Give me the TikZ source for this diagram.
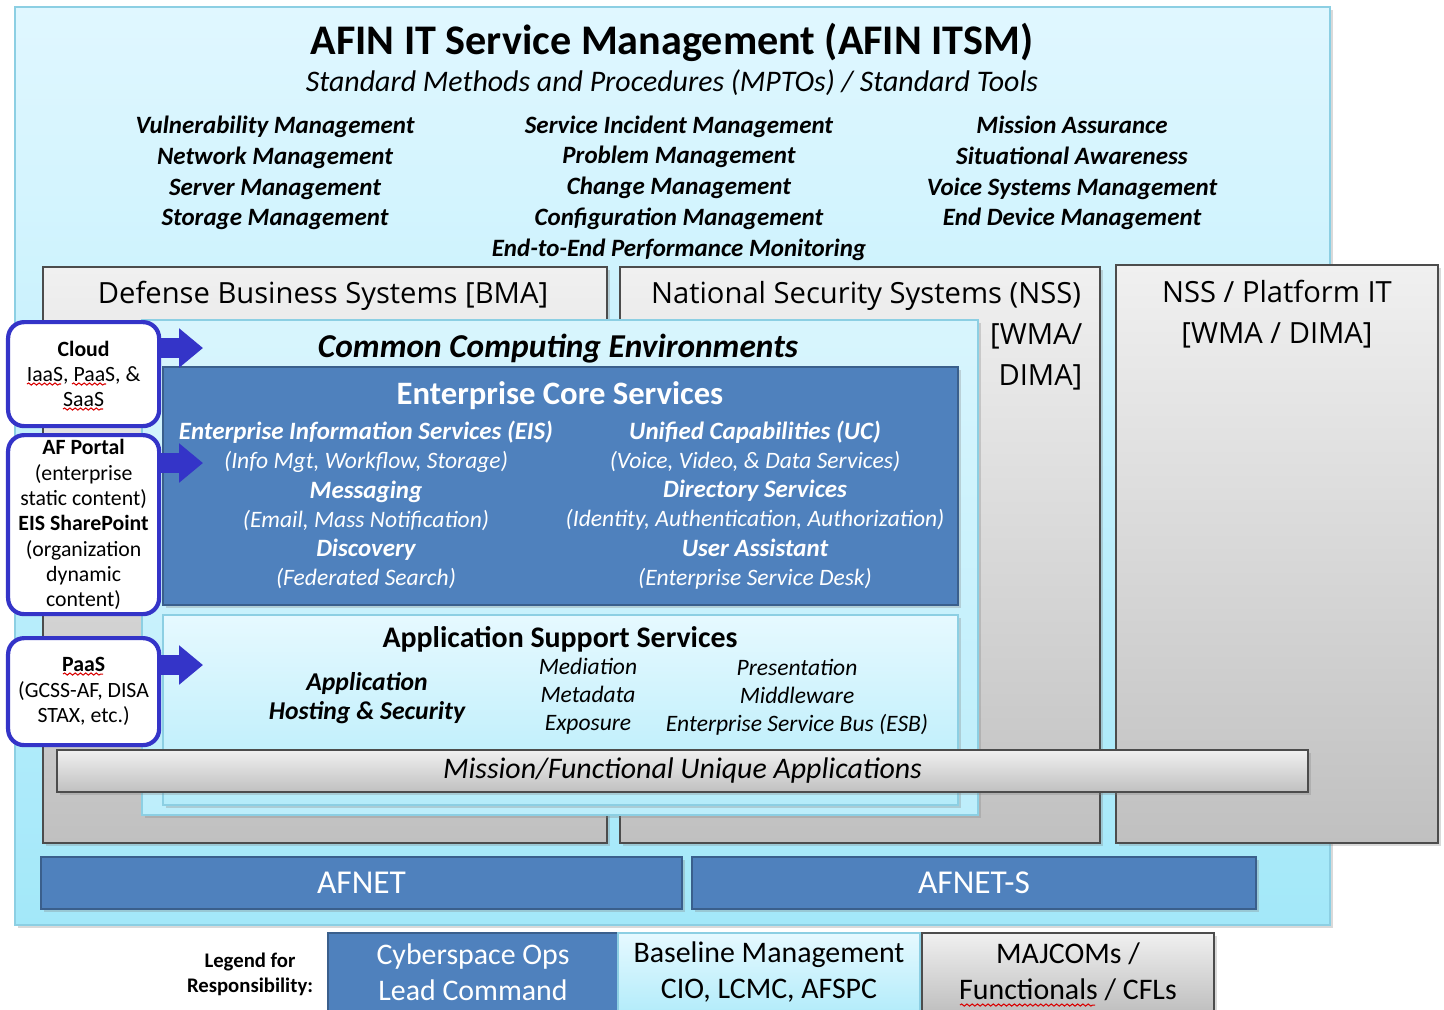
\documentclass[tikz,border=0pt]{standalone}
\usepackage{fontspec}
\setmainfont{Carlito}
\newfontfamily\segoe{Open Sans}
\usetikzlibrary{shadows,arrows.meta,decorations.pathmorphing}

\definecolor{skytop}{HTML}{E0F7FF}
\definecolor{skybot}{HTML}{A3E8F9}
\definecolor{skyrule}{HTML}{8CCFE3}
\definecolor{ccetop}{HTML}{D8F5FD}
\definecolor{ccebot}{HTML}{BDEEFB}
\definecolor{paletop}{HTML}{E6F9FF}
\definecolor{palebot}{HTML}{B4ECFA}
\definecolor{greytop}{HTML}{F0F0F0}
\definecolor{greybot}{HTML}{C0C0C0}
\definecolor{coreblue}{HTML}{4F81BD}
\definecolor{corerule}{HTML}{3A5F8C}
\definecolor{callblue}{HTML}{3434C8}

\newcommand\fs[2]{\fontsize{#1}{#2}\selectfont}
\newcommand\bix[1]{{\fs{7.1}{8.3}\bfseries\itshape #1}}

\tikzset{
  panel/.style={draw, line width=.6pt, inner sep=0pt, outer sep=0pt, anchor=north west, align=center,
    drop shadow={opacity=.3, shadow xshift=.8pt, shadow yshift=-.8pt}},
  skypanel/.style={panel, draw=skyrule, top color=skytop, bottom color=skybot},
  ccepanel/.style={panel, draw=skyrule, top color=ccetop, bottom color=ccebot},
  palepanel/.style={panel, draw=skyrule, top color=paletop, bottom color=palebot},
  greypanel/.style={panel, draw=black!70, top color=greytop, bottom color=greybot},
  corepanel/.style={panel, draw=corerule, fill=coreblue, text=white},
  callout/.style={draw=callblue, line width=1.2pt, fill=white, rounded corners=.16cm, anchor=north west,
    inner sep=0pt, align=center, minimum width=1.51cm, font=\fs{6.2}{7.2}},
  fat/.style={draw=callblue, line width=.2cm, -{Triangle[width=.38cm,length=.24cm]}},
  lbl/.style={inner sep=0pt, align=center},
  typo/.style={draw=red!85!black, line width=.3pt, decorate, decoration={snake, amplitude=.3pt, segment length=1.5pt}},
}

\begin{document}
\begin{tikzpicture}
  \useasboundingbox (0,0) rectangle (14.44,-10.09);
  % \panel{name}{style}{left}{top}{width}{height}{text}
  \def\panel#1#2#3#4#5#6#7{\node[#2, minimum width=#5cm, minimum height=#6cm] (#1) at (#3,-#4) {#7};}

  % ITSM frame and its process lists
  \panel{itsm}{skypanel}{0.15}{0.07}{13.15}{9.18}{}
  \node[lbl, font=\fs{12}{14}\bfseries] (title) at (6.72,-0.42) {AFIN IT Service Management (AFIN ITSM)};
  \node[lbl, font=\fs{8.5}{10}\itshape] (subtitle) at (6.72,-0.83) {Standard Methods and Procedures (MPTOs) / Standard Tools};
  \begin{scope}[every node/.style={lbl, font=\fs{7.1}{8.75}\bfseries\itshape}]
    \node (mgmtA) at (2.75,-1.73) {Vulnerability Management\\Network Management\\Server Management\\Storage Management};
    \node (mgmtB) at (6.79,-1.88) {Service Incident Management\\Problem Management\\Change  Management\\Configuration  Management\\End-to-End Performance Monitoring};
    \node (mgmtC) at (10.72,-1.73) {Mission Assurance\\Situational  Awareness\\Voice Systems Management\\End Device Management};
  \end{scope}

  % system families
  \panel{dbs}{greypanel}{0.43}{2.67}{5.64}{5.76}{}
  \panel{nss}{greypanel}{6.20}{2.67}{4.80}{5.76}{}
  \panel{pit}{greypanel}{11.16}{2.65}{3.22}{5.78}{}
  \begin{scope}[every node/.style={lbl, font=\segoe\fs{8.3}{11.6}}]
    \node (dbsT) at (3.23,-2.96) {Defense  Business  Systems [BMA]};
    \node (nssT) at (8.66,-2.96) {National Security Systems (NSS)};
    \node[anchor=east, align=right] (nssW) at (10.83,-3.57) {{[WMA/}\\DIMA]};
    \node (pitT) at (12.77,-3.145) {NSS / Platform  IT\\{[WMA / DIMA]}};
  \end{scope}

  % common computing environments
  \panel{cce}{ccepanel}{1.42}{3.20}{8.36}{4.95}{}
  \node[lbl, font=\fs{9.5}{11}\bfseries\itshape] (cceT) at (5.58,-3.49) {Common Computing Environments};

  \panel{ecs}{corepanel}{1.63}{3.67}{7.95}{2.38}{}
  \node[lbl, text=white, font=\fs{9.3}{10}\bfseries] (ecsT) at (5.60,-3.96) {Enterprise  Core  Services};
  \begin{scope}[every node/.style={lbl, text=white, font=\fs{6.7}{8.3}\itshape}]
    \node (ecsA) at (3.66,-5.05) {\bix{Enterprise Information Services (EIS)}\\(Info Mgt, Workflow, Storage)\\
      \bix{Messaging}\\(Email, Mass Notification)\\\bix{Discovery}\\(Federated Search)};
    \node (ecsB) at (7.55,-5.05) {\bix{Unified Capabilities  (UC)}\\(Voice, Video, \& Data Services)\\
      \bix{Directory Services}\\(Identity, Authentication, Authorization)\\\bix{User Assistant}\\(Enterprise Service Desk)};
  \end{scope}

  \panel{ass}{palepanel}{1.63}{6.15}{7.95}{1.90}{}
  \node[lbl, font=\fs{8.5}{9}\bfseries] (assT) at (5.60,-6.39) {Application Support Services};
  \node[lbl, font=\fs{7.3}{8.3}\bfseries\itshape] (assA) at (3.67,-6.985) {Application\\Hosting \& Security};
  \node[lbl, font=\fs{6.7}{8}\itshape] (assB) at (5.88,-6.96) {Mediation\\Metadata\\Exposure};
  \node[lbl, font=\fs{6.7}{8}\itshape] (assC) at (7.97,-6.975) {Presentation\\Middleware\\Enterprise Service Bus (ESB)};

  \panel{mfua}{greypanel, font=\fs{8.5}{9}\itshape}{0.57}{7.50}{12.51}{0.42}{Mission/Functional Unique Applications}

  % transport
  \panel{afnet}{corepanel, font=\fs{9.5}{10}}{0.41}{8.57}{6.41}{0.52}{AFNET}
  \panel{afnets}{corepanel, font=\fs{9.5}{10}}{6.92}{8.57}{5.64}{0.52}{AFNET-S}

  % hosting offers feeding the environment
  \coordinate (toCloud) at (2.03,-3.48);
  \coordinate (toCore) at (2.03,-4.63);
  \coordinate (toApp) at (2.03,-6.65);
  \node[callout, minimum height=1.04cm] (cloud) at (0.06,-3.20) {\textbf{Cloud}\\IaaS, PaaS, \&\\SaaS};
  \node[callout, minimum height=1.79cm] (portal) at (0.06,-4.33)
    {\textbf{AF Portal}\\(enterprise\\static content)\\\textbf{EIS SharePoint}\\(organization\\dynamic\\content)};
  \node[callout, minimum height=1.07cm] (paas) at (0.06,-6.36) {\textbf{PaaS}\\(GCSS-AF,  DISA\\STAX,  etc.)};
  \draw[fat] (cloud.east |- toCloud) -- (toCloud);
  \draw[fat] (portal.east |- toCore) -- (toCore);
  \draw[fat] (paas.east |- toApp) -- (toApp);

  % legend
  \node[lbl, font=\fs{5.9}{7.1}\bfseries] (legend) at (2.50,-9.745) {Legend for\\Responsibility:};
  \panel{lead}{corepanel, font=\fs{8.5}{10.2}}{3.28}{9.33}{2.90}{0.78}{Cyberspace Ops\\Lead Command}
  \panel{baseline}{palepanel, font=\fs{8.5}{10.2}}{6.18}{9.33}{3.02}{0.78}{Baseline Management\\CIO, LCMC, AFSPC}
  \panel{cfl}{greypanel, font=\fs{8.5}{10.2}}{9.22}{9.33}{2.92}{0.78}{MAJCOMs /\\Functionals / CFLs}

  % spell-check marks
  \draw[typo] (0.27,-3.84) -- (0.61,-3.84);
  \draw[typo] (0.72,-3.84) -- (1.06,-3.84);
  \draw[typo] (0.63,-4.09) -- (1.03,-4.09);
  \draw[typo] (0.63,-6.74) -- (1.03,-6.74);
  \draw[typo] (9.60,-10.05) -- (10.95,-10.05);
\end{tikzpicture}
\end{document}
